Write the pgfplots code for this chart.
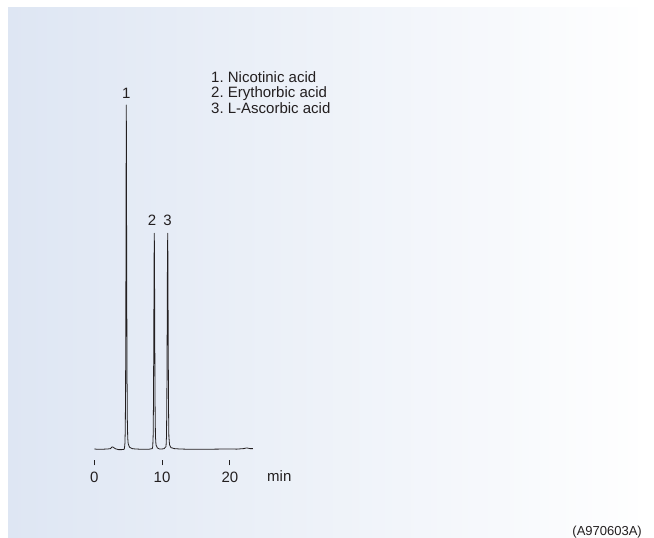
\documentclass[border=0pt]{standalone}
\usepackage{fontspec}
\setmainfont{Liberation Sans}
\usepackage{pgfplots}
\pgfplotsset{compat=1.18}
\definecolor{bgblue}{RGB}{222,230,243}
\definecolor{ink}{RGB}{35,31,32}
\frenchspacing

\begin{document}
\begin{tikzpicture}
% background page and blue panel (1pt = 1px of the reference)
\fill[white,use as bounding box] (0pt,0pt) rectangle (654pt,538pt);
\shade[left color=bgblue, right color=white!97!bgblue] (8pt,0pt) rectangle (637pt,530pt);

\begin{axis}[
    at={(94.3pt,78pt)}, anchor=south west,
    scale only axis,
    width=162.7pt, height=355pt,
    xmin=0, xmax=24,
    ymin=-2.9, ymax=100,
    clip=false,
    axis y line=none,
    axis x line=bottom,
    x axis line style={draw=none,-},
    xtick={0,10,20},
    tick align=outside,
    major tick length=5.5pt,
    xtick style={ink, line width=0.9pt},
    /pgf/number format/assume math mode=true,
    tick label style={font=\fontsize{15}{18}\selectfont, text=ink},
    xticklabel style={yshift=-2.5pt},
]
\addplot[ink, line width=0.8pt, line join=round] coordinates {
    (0,0.3) (0.5,0.2) (1,0.2) (1.5,0.25) (2,0.3) (2.4,0.4) (2.6,0.9) (2.8,0.8)
    (3.0,0.5) (3.2,0.3) (3.6,0.1) (4.0,0.1) (4.4,0.2)
    (4.45,0.5) (4.52,2) (4.57,6) (4.62,20) (4.67,55) (4.70,85) (4.72,100)
    (4.74,88) (4.77,60) (4.82,25) (4.87,9) (4.93,3.5) (5.0,1.8) (5.2,0.8) (5.6,0.4)
    (6,0.3) (7,0.2) (8,0.2) (8.55,0.4)
    (8.62,1) (8.68,4) (8.73,14) (8.78,35) (8.82,55) (8.85,62.8) (8.88,55)
    (8.92,33) (8.97,12) (9.02,4) (9.1,1.5) (9.3,0.6) (9.6,0.3) (10.0,0.3) (10.3,0.4)
    (10.58,1) (10.65,4) (10.70,14) (10.75,35) (10.79,55) (10.83,62.8) (10.86,55)
    (10.90,33) (10.95,12) (11.0,4) (11.1,1.5) (11.3,0.7) (11.8,0.4) (12.5,0.3)
    (14,0.2) (16,0.2) (18,0.25) (20,0.3) (21,0.25) (22,0.4) (22.5,0.6) (23,0.4) (23.4,0.4)
};
\node[anchor=base, inner sep=0pt, text=ink, font=\fontsize{15}{18}\selectfont]
    at (axis cs:4.72,100) [yshift=6pt] {1};
\node[anchor=base, inner sep=0pt, text=ink, font=\fontsize{15}{18}\selectfont]
    at (axis cs:8.51,62.8) [yshift=8pt] {2};
\node[anchor=base, inner sep=0pt, text=ink, font=\fontsize{15}{18}\selectfont]
    at (axis cs:10.80,62.8) [yshift=8pt] {3};
\end{axis}

\node[anchor=base west, inner sep=0pt, text=ink, font=\fontsize{15}{18}\selectfont]
    at (267pt,56pt) {min};
\node[anchor=north west, inner sep=0pt, align=left, text=ink,
      font=\fontsize{15}{15.4}\selectfont]
    at (211pt,466.5pt) {1. Nicotinic acid\\2. Erythorbic acid\\3. L-Ascorbic acid};
\node[anchor=base east, inner sep=0pt, text=ink, font=\fontsize{13}{15}\selectfont]
    at (642pt,2pt) {(A970603A)};
\end{tikzpicture}
\end{document}
